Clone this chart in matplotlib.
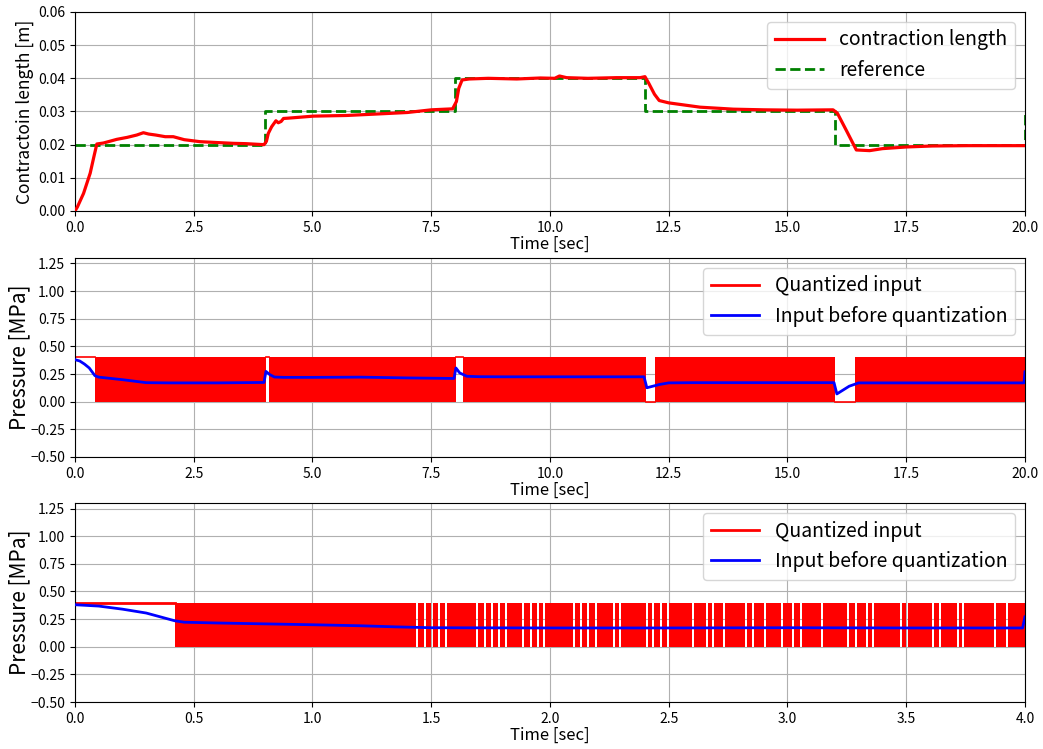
import matplotlib
matplotlib.use("Agg")
from matplotlib import pyplot as plt
import numpy as np

plt.rcParams['font.family'] = ['Noto Sans CJK JP', 'DejaVu Sans']

# contraction length of the muscle [m]
t_len = [0, 0.05, 0.18, 0.32, 0.40, 0.46, 0.6, 0.88, 1.1, 1.3, 1.44, 1.55, 1.7, 1.9,
         2.07, 2.3, 2.63, 2.9, 3.33, 3.6, 3.85, 3.98, 4.03, 4.07, 4.14, 4.23, 4.28,
         4.34, 4.39, 4.5, 5.02, 5.72, 6.3, 7.0, 7.5, 7.95, 8.03, 8.08, 8.15, 8.3, 8.7,
         9.3, 9.8, 10.1, 10.2, 10.35, 10.8, 11.4, 11.9, 12.0, 12.08, 12.2, 12.3, 12.5,
         13.16, 13.86, 14.5, 15.2, 15.96, 16.05, 16.25, 16.45, 16.73, 17.0, 17.5, 18.05,
         18.8, 19.5, 20.0]
len_m = [0, 0.0012, 0.0053, 0.0114, 0.0165, 0.0202, 0.0205, 0.0216, 0.0222, 0.0229,
         0.0236, 0.0232, 0.0229, 0.0224, 0.0224, 0.0215, 0.0209, 0.0207, 0.0204, 0.0203,
         0.0201, 0.0200, 0.0210, 0.0234, 0.0254, 0.0272, 0.0266, 0.0270, 0.0279, 0.0280,
         0.0286, 0.0288, 0.0292, 0.0297, 0.0305, 0.0308, 0.0330, 0.0370, 0.0395, 0.0398,
         0.0400, 0.0398, 0.0401, 0.0400, 0.0407, 0.0402, 0.0400, 0.0402, 0.0402, 0.0405,
         0.0385, 0.0352, 0.0333, 0.0326, 0.0313, 0.0307, 0.0305, 0.0304, 0.0305, 0.0295,
         0.0240, 0.0184, 0.0182, 0.0188, 0.0193, 0.0196, 0.0197, 0.0197, 0.0197]

# reference trajectory (step changes)
t_ref = [0, 4, 8, 12, 16, 20]
ref_m = [0.02, 0.03, 0.04, 0.03, 0.02, 0.03]

# input before quantization, 0-20 s [MPa]
t_in = [0, 0.1, 0.2, 0.3, 0.42, 0.5, 1.0, 1.5, 2.0, 3.0, 3.98, 4.02, 4.1, 4.2, 4.4,
        5.0, 6.0, 7.0, 7.98, 8.02, 8.1, 8.25, 8.5, 9.0, 10.0, 11.0, 11.98, 12.04, 12.3,
        12.5, 13.0, 14.0, 15.0, 15.98, 16.04, 16.3, 16.5, 17.0, 18.0, 19.0, 19.98, 20.0]
p_in = [0.38, 0.368, 0.34, 0.305, 0.235, 0.222, 0.199, 0.172, 0.17, 0.17, 0.174, 0.274,
        0.245, 0.223, 0.22, 0.22, 0.222, 0.215, 0.21, 0.305, 0.26, 0.23, 0.226, 0.225,
        0.225, 0.225, 0.225, 0.126, 0.155, 0.17, 0.172, 0.172, 0.172, 0.172, 0.07, 0.14,
        0.17, 0.17, 0.17, 0.17, 0.17, 0.27]

# quantized input: switching bursts between 0 and 0.4 MPa, and constant holds
q_on = 0.4
burst_start = [0.42, 4.08, 8.16, 12.22, 16.42]
burst_end = [4.02, 8.02, 12.03, 16.0, 20.0]
hold_start = [0.0, 4.02, 8.02, 12.03, 16.0]
hold_end = [0.42, 4.08, 8.16, 12.22, 16.42]
hold_level = [0.4, 0.4, 0.4, 0.0, 0.0]

# first 4 s in detail
t_in_z = [0, 0.1, 0.2, 0.3, 0.36, 0.42, 0.46, 0.6, 0.8, 1.0, 1.2, 1.35, 1.5, 2.0,
          2.5, 3.0, 3.5, 3.99, 4.0]
p_in_z = [0.38, 0.368, 0.34, 0.305, 0.27, 0.235, 0.222, 0.215, 0.207, 0.199, 0.19,
          0.18, 0.172, 0.17, 0.17, 0.172, 0.17, 0.17, 0.27]
z_burst = (0.42, 4.0)
z_gaps = [1.440, 1.474, 1.503, 1.533, 1.562, 1.693, 1.726, 1.756, 1.785, 1.815,
          1.886, 1.920, 1.949, 1.975, 2.101, 2.131, 2.160, 2.194, 2.269, 2.295,
          2.408, 2.434, 2.467, 2.497, 2.602, 2.661, 2.686, 2.733, 2.825, 2.855,
          2.905, 2.977, 3.023, 3.057, 3.145, 3.255, 3.288, 3.335, 3.360, 3.478,
          3.503, 3.613, 3.642, 3.718, 3.739, 3.874, 3.924]
gap_w = 0.009

fig = plt.figure(figsize=(10.43, 7.49), dpi=100)
ax1 = fig.add_axes([0.0719, 0.7183, 0.9108, 0.2657])
ax2 = fig.add_axes([0.0719, 0.3899, 0.9108, 0.2657])
ax3 = fig.add_axes([0.0719, 0.0627, 0.9108, 0.2657])

# contraction length
ax1.plot(t_len, len_m, color='red', lw=2.3, label='contraction length', zorder=3)
ax1.plot(t_ref, ref_m, color='green', lw=2, ls='--', drawstyle='steps-post',
         label='reference', zorder=2)
ax1.set_xlim(0, 20)
ax1.set_ylim(0, 0.06)
ax1.set_ylabel('Contractoin length [m]', fontsize=12.5, labelpad=3)


def draw_quantized(ax, starts, ends):
    for s, e in zip(starts, ends):
        ax.fill_between([s, e], 0, q_on, color='red', lw=0, zorder=2)


draw_quantized(ax2, burst_start, burst_end)
for s, e, lv in zip(hold_start, hold_end, hold_level):
    ax2.plot([s, e], [lv, lv], color='red', lw=1.2, zorder=2)
ax2.plot([], [], color='red', lw=2, label='Quantized input')
ax2.plot(t_in, p_in, color='blue', lw=2, label='Input before quantization', zorder=3)
ax2.set_xlim(0, 20)

# zoomed view: bursts split by the short holds
edges = [z_burst[0]]
for g in z_gaps:
    edges += [g - gap_w / 2, g + gap_w / 2]
edges.append(z_burst[1])
draw_quantized(ax3, edges[0::2], edges[1::2])
ax3.plot([0, z_burst[0]], [q_on, q_on], color='red', lw=2, zorder=2)
ax3.plot([], [], color='red', lw=2, label='Quantized input')
ax3.plot(t_in_z, p_in_z, color='blue', lw=2, label='Input before quantization', zorder=3)
ax3.set_xlim(0, 4)

for ax in (ax2, ax3):
    ax.set_ylim(-0.5, 1.3)
    ax.set_yticks(np.arange(-0.5, 1.26, 0.25))
    ax.set_ylabel('Pressure [MPa]', fontsize=15, labelpad=0)

for ax in (ax1, ax2, ax3):
    ax.grid(True, color='#b0b0b0', lw=0.8)
    ax.set_axisbelow(True)
    ax.set_xlabel('Time [sec]', fontsize=12, labelpad=1)
    ax.tick_params(labelsize=10)
    ax.legend(loc='upper right', fontsize=14, handlelength=2.5)

plt.savefig('out.png', dpi=100)
